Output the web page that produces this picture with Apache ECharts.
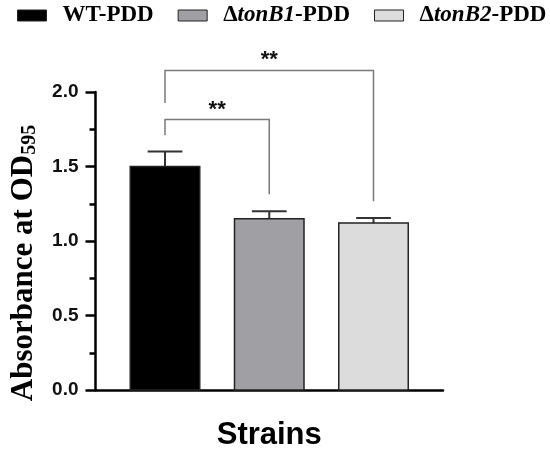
<!DOCTYPE html>
<html lang="en">
<head>
  <meta charset="UTF-8">
  <title>tonB absorbance</title>
  <script src="https://cdn.jsdelivr.net/npm/echarts@6/dist/echarts.min.js"></script>
  <style>
    html, body {
      margin: 0;
      padding: 0;
      background: #fff;
    }

    #chart-main {
      width: 550px;
      height: 456px;
    }
  </style>
</head>
<body>
<div id="chart-main"></div>

<script type="text/javascript">
  // data
  const strains = ['WT-PDD', 'ΔtonB1-PDD', 'ΔtonB2-PDD']
  const legendLabels = ['WT-PDD', '{d|Δ}{i|tonB1}{d|-PDD}', '{d|Δ}{i|tonB2}{d|-PDD}']
  const means = [1.50, 1.15, 1.12]
  const errors = [0.10, 0.05, 0.035]
  const barColors = ['#000000', '#a0a0a4', '#dcdcdc']
  const yTicks = [0, 0.5, 1.0, 1.5, 2.0]

  // significance brackets: from bar, to bar, line height, leg ends, label
  const bracketFrom = [0, 0]
  const bracketTo = [1, 2]
  const bracketY = [1.815, 2.145]
  const legFromEnd = [1.71, 1.927]
  const legToEnd = [1.313, 1.267]
  const bracketText = ['**', '**']

  let chart = echarts.init(document.getElementById('chart-main'))

  const barSlot = 2 / 3

  function renderBar(params, api) {
    let x = api.value(0)
    let y = api.value(1)
    let e = api.value(2)
    let base = api.coord([x, 0])
    let top = api.coord([x, y])
    let errTop = api.coord([x, y + e])
    let w = api.size([barSlot, 0])[0]
    let cap = w / 2
    return {
      type: 'group',
      children: [
        {
          type: 'line',
          shape: {x1: top[0], y1: top[1], x2: errTop[0], y2: errTop[1]},
          style: {stroke: '#333', lineWidth: 2}
        },
        {
          type: 'line',
          shape: {x1: errTop[0] - cap / 2, y1: errTop[1], x2: errTop[0] + cap / 2, y2: errTop[1]},
          style: {stroke: '#333', lineWidth: 2}
        },
        {
          type: 'rect',
          shape: {x: base[0] - w / 2, y: top[1], width: w, height: base[1] - top[1]},
          style: {fill: api.visual('color'), stroke: '#222', lineWidth: 1.5}
        }
      ]
    }
  }

  function renderBracket(params, api) {
    let a = api.value(0)
    let b = api.value(1)
    let h = api.value(2)
    let p1 = api.coord([a, h])
    let p2 = api.coord([b, h])
    let l1 = api.coord([a, api.value(3)])
    let l2 = api.coord([b, api.value(4)])
    return {
      type: 'group',
      children: [
        {
          type: 'polyline',
          shape: {points: [l1, p1, p2, l2]},
          style: {stroke: '#7a7a7a', lineWidth: 1.5, fill: null}
        },
        {
          type: 'text',
          style: {
            x: (p1[0] + p2[0]) / 2,
            y: p1[1] + 1,
            text: bracketText[params.dataIndex],
            fill: '#111',
            font: 'bold 22px "Liberation Sans", Arial',
            align: 'center',
            verticalAlign: 'bottom'
          }
        }
      ]
    }
  }

  let series = strains.map(function (name, i) {
    return {
      type: 'custom',
      name: name,
      renderItem: renderBar,
      itemStyle: {color: barColors[i], borderColor: '#222', borderWidth: 1.5},
      data: [[i, means[i], errors[i]]],
      z: 3
    }
  })

  series.push({
    type: 'custom',
    name: 'brackets',
    renderItem: renderBracket,
    clip: false,
    silent: true,
    data: bracketFrom.map(function (f, i) {
      return [f, bracketTo[i], bracketY[i], legFromEnd[i], legToEnd[i]]
    }),
    z: 2
  })

  let option = {
    animation: false,
    backgroundColor: '#fff',
    legend: {
      left: 17,
      top: 4,
      padding: 0,
      itemWidth: 29,
      itemHeight: 11,
      itemGap: 24,
      icon: 'rect',
      data: strains.map(function (name, i) {
        return {name: name, itemStyle: {color: barColors[i], borderColor: '#222', borderWidth: 1}}
      }),
      formatter: function (name) {
        return legendLabels[strains.indexOf(name)]
      },
      textStyle: {
        fontFamily: '"Liberation Serif", "Times New Roman", serif',
        fontWeight: 'bold',
        fontSize: 23,
        color: '#000',
        padding: [0, 0, 0, 11],
        rich: {
          d: {
            fontFamily: '"Liberation Serif", "Times New Roman", serif',
            fontWeight: 'bold',
            fontSize: 23,
            color: '#000'
          },
          i: {
            fontFamily: '"Liberation Serif", "Times New Roman", serif',
            fontWeight: 'bold',
            fontStyle: 'italic',
            fontSize: 23,
            color: '#000'
          }
        }
      }
    },
    grid: {
      left: 90,
      top: 92,
      width: 353,
      height: 303
    },
    xAxis: {
      type: 'value',
      min: -barSlot,
      max: 2 + barSlot,
      name: 'Strains',
      nameLocation: 'middle',
      nameGap: 30,
      nameTextStyle: {
        fontFamily: '"Liberation Sans", Arial, sans-serif',
        fontWeight: 'bold',
        fontSize: 31,
        color: '#000'
      },
      axisLine: {show: true, onZero: false, lineStyle: {color: '#000', width: 2.5}},
      axisTick: {show: false},
      axisLabel: {show: false},
      splitLine: {show: false}
    },
    yAxis: {
      type: 'value',
      min: yTicks[0],
      max: yTicks[yTicks.length - 1],
      interval: yTicks[1] - yTicks[0],
      name: '{a|Absorbance at OD}{s|595}',
      nameLocation: 'middle',
      nameRotate: 90,
      nameGap: 56,
      nameTextStyle: {
        padding: [0, 44, 0, 0],
        rich: {
          a: {
            fontFamily: '"Liberation Serif", "Times New Roman", serif',
            fontWeight: 'bold',
            fontSize: 31,
            lineHeight: 32,
            color: '#000'
          },
          s: {
            fontFamily: '"Liberation Serif", "Times New Roman", serif',
            fontWeight: 'bold',
            fontSize: 20,
            lineHeight: 14,
            verticalAlign: 'bottom',
            color: '#000'
          }
        }
      },
      axisLine: {show: true, onZero: false, lineStyle: {color: '#000', width: 2.5}},
      axisTick: {show: true, length: 10, lineStyle: {color: '#000', width: 2.5}},
      minorTick: {show: true, splitNumber: 2, length: 6, lineStyle: {color: '#000', width: 2.5}},
      axisLabel: {
        margin: 17,
        fontFamily: '"Liberation Sans", Arial, sans-serif',
        fontWeight: 'bold',
        fontSize: 19,
        color: '#111',
        formatter: function (v) {
          return v.toFixed(1)
        }
      },
      splitLine: {show: false}
    },
    series: series
  }

  chart.setOption(option)
</script>
</body>
</html>
